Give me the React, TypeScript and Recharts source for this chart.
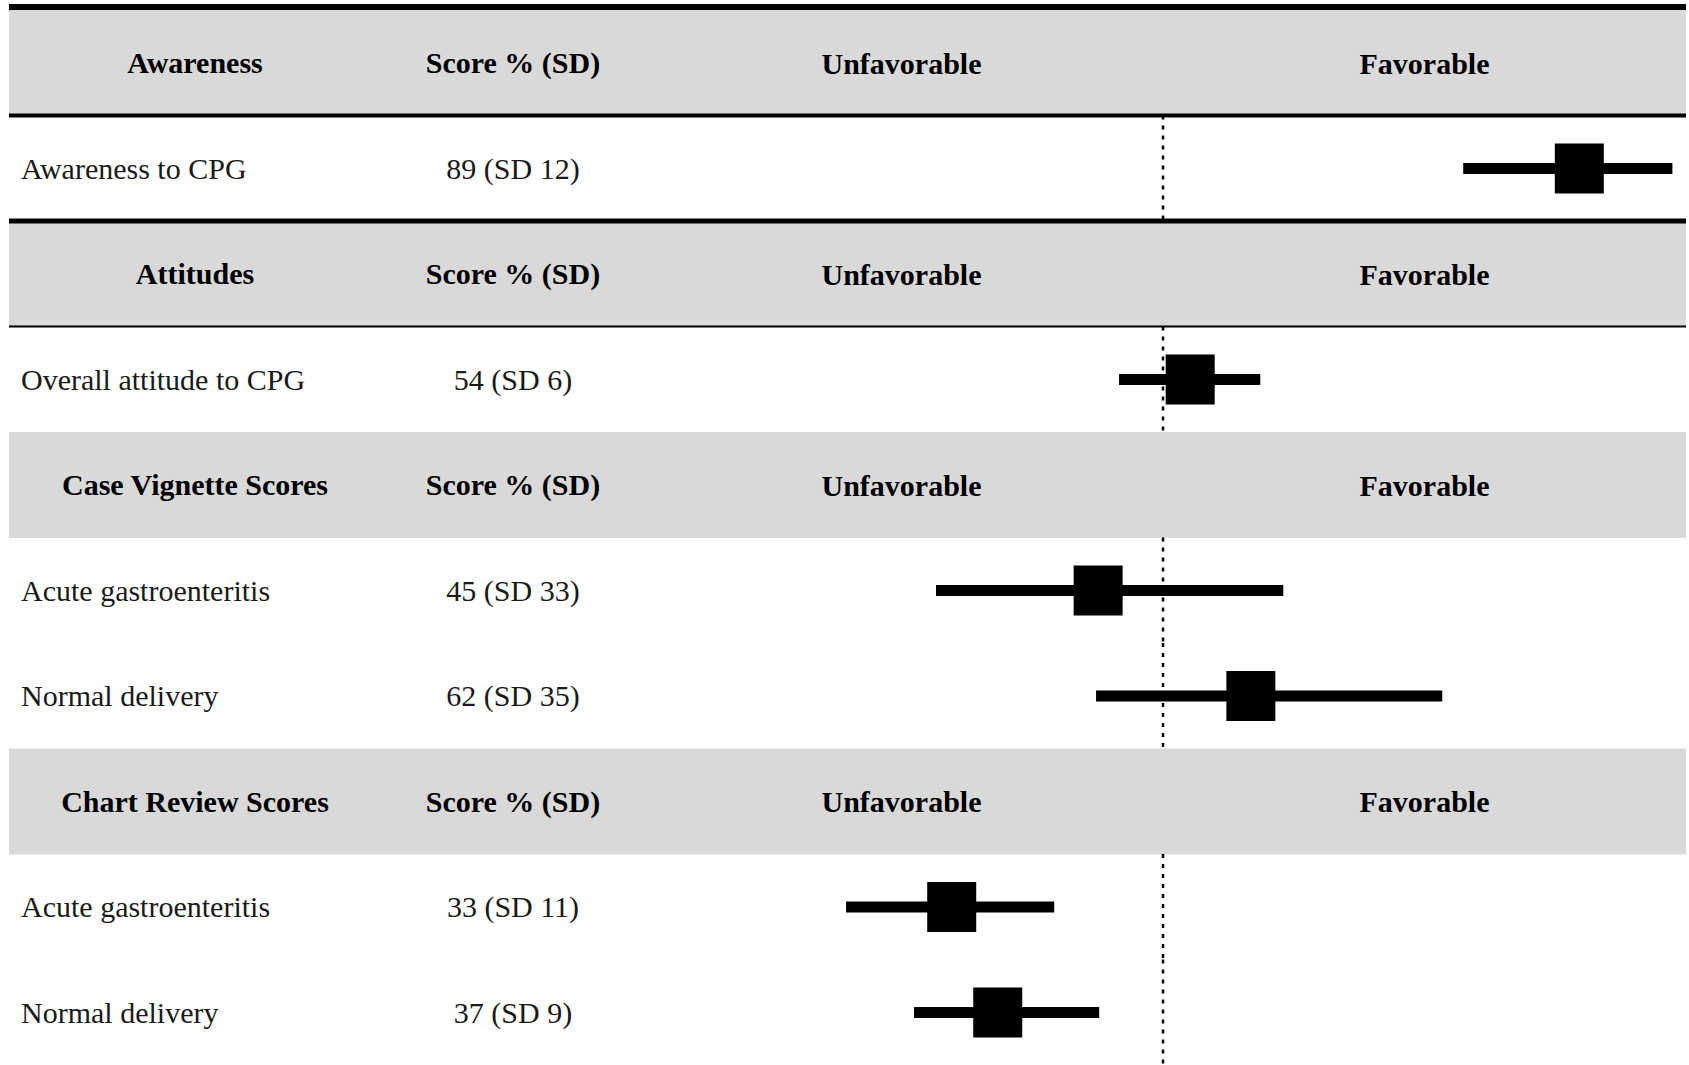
import React from "react";
import { ComposedChart, Bar, XAxis, YAxis } from "recharts";

// section headers and the column titles they carry
const SECTIONS = ["Awareness", "Attitudes", "Case Vignette Scores", "Chart Review Scores"];
const SCORE_HEADER = "Score % (SD)";
const SIDE_LABELS = ["Unfavorable", "Favorable"];
const SIDE_AT = [25, 75];

// item rows
const ITEMS = [
  "Awareness to CPG",
  "Overall attitude to CPG",
  "Acute gastroenteritis",
  "Normal delivery",
  "Acute gastroenteritis",
  "Normal delivery",
];
const ITEM_SECTION = [0, 1, 2, 2, 3, 3];
const SCORES = ["89 (SD 12)", "54 (SD 6)", "45 (SD 33)", "62 (SD 35)", "33 (SD 11)", "37 (SD 9)"];

// plotted positions on the 0-100 axis
const MEANS = [89.8, 52.6, 43.8, 58.4, 29.8, 34.2];
const LOWS = [78.7, 45.8, 28.3, 43.6, 19.7, 26.2];
const HIGHS = [98.7, 59.3, 61.5, 76.7, 39.6, 43.9];
const NEUTRAL = 50;
const X_DOMAIN: [number, number] = [0, 100];

// layout / style
const W = 1689;
const H = 1065;
const TABLE_LEFT = 9;
const PLOT_LEFT = 640;
const TABLE_RIGHT = 1686;
const TOP = 10;
const LABEL_X = 21;
const LABEL_CX = 195;
const SCORE_CX = 513;
const HEADER_FILL = "#d9d9d9";
const FONT = "'Liberation Serif', 'Times New Roman', serif";
const FONT_SIZE = 30;
const RULE_ON_TOP = [6, 4, 5, 2]; // thickness of the rule above row i

type Row = {
  key: string;
  kind: "header" | "item";
  label: string;
  score: string;
  range: [number, number];
  mean?: number;
};

const rows: Row[] = [];
SECTIONS.forEach((s, si) => {
  rows.push({ key: `h${si}`, kind: "header", label: s, score: SCORE_HEADER, range: X_DOMAIN });
  ITEMS.forEach((it, i) => {
    if (ITEM_SECTION[i] === si) {
      rows.push({
        key: `i${i}`,
        kind: "item",
        label: it,
        score: SCORES[i],
        range: [LOWS[i], HIGHS[i]],
        mean: MEANS[i],
      });
    }
  });
});
const rowByKey: Record<string, Row> = {};
rows.forEach((r) => (rowByKey[r.key] = r));

function RowShape(props: any) {
  const { x, y, width, height, payload, index } = props;
  const [r0, r1] = payload.range;
  const px = (v: number) => x + (width * (v - r0)) / (r1 - r0);
  const cy = y + height / 2;
  const rw = RULE_ON_TOP[index];
  const rule =
    rw != null ? (
      <rect
        x={TABLE_LEFT}
        y={index === 0 ? y - rw : y - rw / 2}
        width={TABLE_RIGHT - TABLE_LEFT}
        height={rw}
        fill="#000"
      />
    ) : null;

  if (payload.kind === "header") {
    return (
      <g>
        <rect x={TABLE_LEFT} y={y} width={x + width - TABLE_LEFT} height={height} fill={HEADER_FILL} />
        {SIDE_LABELS.map((t, i) => (
          <text
            key={t}
            x={px(SIDE_AT[i])}
            y={cy}
            textAnchor="middle"
            dominantBaseline="central"
            fontFamily={FONT}
            fontSize={FONT_SIZE}
            fontWeight={700}
            fill="#000"
          >
            {t}
          </text>
        ))}
        {rule}
      </g>
    );
  }

  const mx = px(payload.mean);
  return (
    <g>
      <line
        x1={px(NEUTRAL)}
        x2={px(NEUTRAL)}
        y1={y}
        y2={y + height}
        stroke="#000"
        strokeWidth={2.5}
        strokeDasharray="4 6"
      />
      <rect x={x} y={cy - 5.5} width={width} height={11} fill="#000" />
      <rect x={mx - 24.5} y={cy - 25} width={49} height={50} fill="#000" />
      {rule}
    </g>
  );
}

function RowTick(props: any) {
  const row = rowByKey[props.payload.value];
  if (!row) return null;
  const isHeader = row.kind === "header";
  const common = {
    y: props.y,
    dominantBaseline: "central" as const,
    fontFamily: FONT,
    fontSize: FONT_SIZE,
    fontWeight: isHeader ? 700 : 400,
    fill: isHeader ? "#000" : "#1a1a1a",
  };
  return (
    <g>
      <text x={isHeader ? LABEL_CX : LABEL_X} textAnchor={isHeader ? "middle" : "start"} {...common}>
        {row.label}
      </text>
      <text x={SCORE_CX} textAnchor="middle" {...common}>
        {row.score}
      </text>
    </g>
  );
}

export default function App() {
  return (
    <div style={{ width: W, height: H, background: "#fff" }}>
      <style>{"body{margin:0;overflow:hidden}"}</style>
      <ComposedChart
        width={W}
        height={H}
        data={rows}
        layout="vertical"
        barCategoryGap={0}
        margin={{ top: TOP, right: W - TABLE_RIGHT, bottom: 0, left: TABLE_LEFT }}
      >
        <XAxis type="number" domain={X_DOMAIN} hide />
        <Bar dataKey="range" isAnimationActive={false} shape={RowShape} />
        <YAxis
          type="category"
          dataKey="key"
          width={PLOT_LEFT - TABLE_LEFT}
          axisLine={false}
          tickLine={false}
          interval={0}
          tick={RowTick}
        />
      </ComposedChart>
    </div>
  );
}
